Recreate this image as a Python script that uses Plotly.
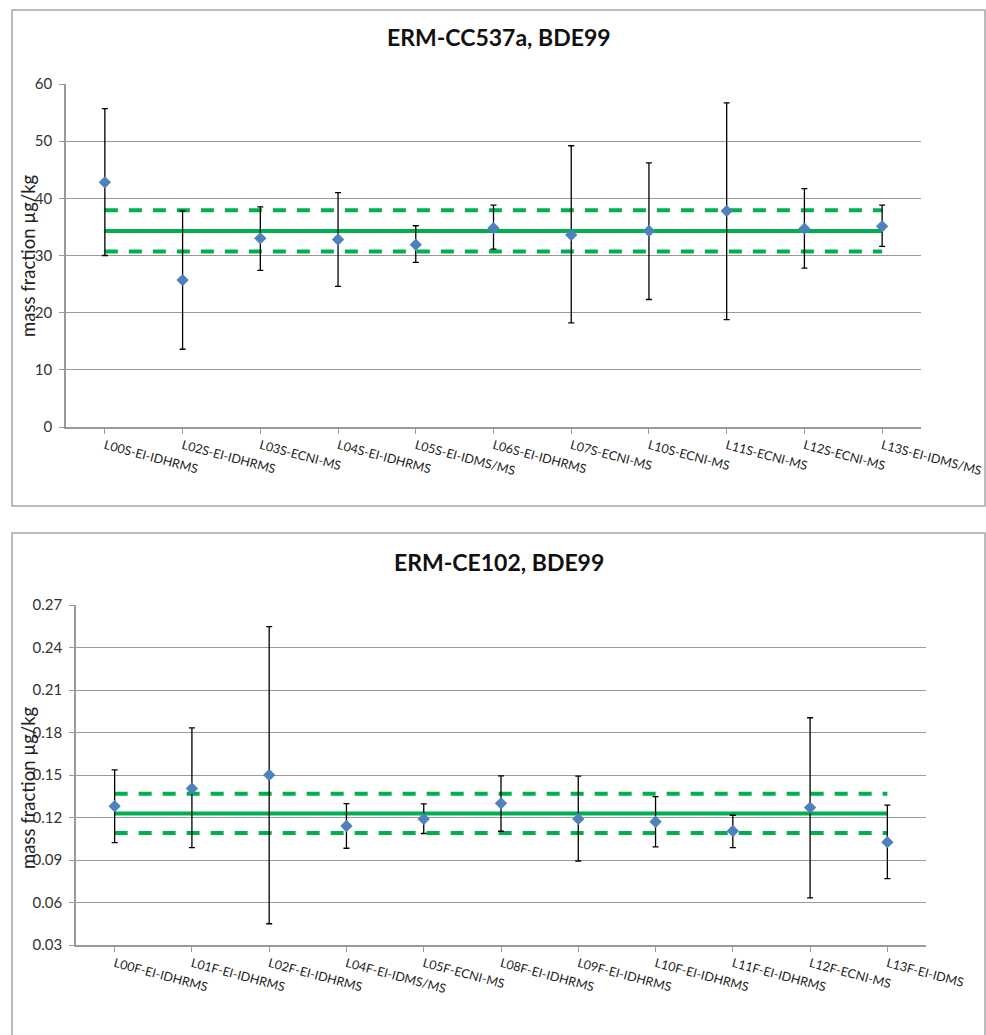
import plotly.graph_objects as go

W, H = 986, 1035

# ---- ERM-CC537a, BDE99 (top panel) ----
labs_cc = ["L00S-EI-IDHRMS", "L02S-EI-IDHRMS", "L03S-ECNI-MS", "L04S-EI-IDHRMS",
           "L05S-EI-IDMS/MS", "L06S-EI-IDHRMS", "L07S-ECNI-MS", "L10S-ECNI-MS",
           "L11S-ECNI-MS", "L12S-ECNI-MS", "L13S-EI-IDMS/MS"]
val_cc = [42.8, 25.7, 33.0, 32.8, 31.9, 34.8, 33.6, 34.3, 37.8, 34.7, 35.1]
up_cc = [55.7, 37.8, 38.5, 41.0, 35.2, 38.8, 49.2, 46.2, 56.7, 41.7, 38.8]
lo_cc = [30.0, 13.6, 27.4, 24.6, 28.8, 31.1, 18.2, 22.3, 18.8, 27.8, 31.6]
cert_cc = 34.3
cert_cc_hi = 37.9
cert_cc_lo = 30.7
yticks_cc = [0, 10, 20, 30, 40, 50, 60]

# ---- ERM-CE102, BDE99 (bottom panel) ----
labs_ce = ["L00F-EI-IDHRMS", "L01F-EI-IDHRMS", "L02F-EI-IDHRMS", "L04F-EI-IDMS/MS",
           "L05F-ECNI-MS", "L08F-EI-IDHRMS", "L09F-EI-IDHRMS", "L10F-EI-IDHRMS",
           "L11F-EI-IDHRMS", "L12F-ECNI-MS", "L13F-EI-IDMS"]
val_ce = [0.128, 0.1405, 0.150, 0.114, 0.119, 0.130, 0.119, 0.117, 0.1105, 0.127, 0.1026]
up_ce = [0.1536, 0.1833, 0.2547, 0.1298, 0.1296, 0.1494, 0.1492, 0.1348, 0.1216, 0.1904, 0.1287]
lo_ce = [0.1023, 0.0988, 0.045, 0.0983, 0.1087, 0.1103, 0.0893, 0.0992, 0.0988, 0.0632, 0.0769]
cert_ce = 0.1228
cert_ce_hi = 0.1367
cert_ce_lo = 0.1091
yticks_ce = [0.03, 0.06, 0.09, 0.12, 0.15, 0.18, 0.21, 0.24, 0.27]

BLUE = "#4F81BD"
GREEN = "#00B050"
GRID = "#9A9A9A"
FONT = "Lato, Open Sans, sans-serif"


def px_x(x):
    return x / W


def px_y(y):
    return 1 - y / H


fig = go.Figure()


def add_panel(idx, labels, vals, ups, los, cert, hi, lo):
    xa = "x" if idx == 1 else f"x{idx}"
    ya = "y" if idx == 1 else f"y{idx}"
    xs = list(range(len(labels)))
    ends = [xs[0], xs[-1]]
    for level, dash in ((hi, "13px,11px"), (lo, "13px,11px"), (cert, "solid")):
        fig.add_trace(go.Scatter(
            x=ends, y=[level, level], mode="lines",
            line=dict(color=GREEN, width=4, dash=dash),
            xaxis=xa, yaxis=ya, showlegend=False, hoverinfo="skip"))
    fig.add_trace(go.Scatter(
        x=xs, y=vals, mode="markers",
        marker=dict(symbol="diamond", size=9.5, color=BLUE),
        error_y=dict(type="data", symmetric=False,
                     array=[u - v for u, v in zip(ups, vals)],
                     arrayminus=[v - l for v, l in zip(vals, los)],
                     color="black", thickness=1.3, width=3),
        xaxis=xa, yaxis=ya, showlegend=False))


add_panel(1, labs_cc, val_cc, up_cc, lo_cc, cert_cc, cert_cc_hi, cert_cc_lo)
add_panel(2, labs_ce, val_ce, up_ce, lo_ce, cert_ce, cert_ce_hi, cert_ce_lo)

xcommon = dict(range=[-0.5, 10.5], showgrid=False, zeroline=False,
               showline=True, linecolor=GRID, linewidth=1.5,
               ticks="outside", ticklen=5, tickcolor=GRID, tickwidth=1,
               tickangle=15, tickfont=dict(family=FONT, size=12.5, color="#222"),
               tickvals=list(range(11)), automargin=False)
ycommon = dict(showgrid=True, gridcolor=GRID, gridwidth=1, zeroline=False,
               showline=True, linecolor=GRID, linewidth=1.5,
               ticks="outside", ticklen=5, tickcolor=GRID, tickwidth=1,
               tickfont=dict(family=FONT, size=15, color="#333"),
               ticklabelstandoff=4, automargin=False)

fig.update_layout(
    width=W, height=H, autosize=False,
    margin=dict(l=0, r=0, t=0, b=0, pad=0),
    paper_bgcolor="white", plot_bgcolor="white",
    xaxis=dict(xcommon, domain=[px_x(66), px_x(921)], anchor="y",
               ticktext=labs_cc),
    yaxis=dict(ycommon, domain=[px_y(427), px_y(84)], anchor="x",
               range=[0, 60], tickvals=yticks_cc,
               ticktext=[str(v) for v in yticks_cc]),
    xaxis2=dict(xcommon, domain=[px_x(76), px_x(926)], anchor="y2",
                ticktext=labs_ce),
    yaxis2=dict(ycommon, domain=[px_y(945), px_y(605)], anchor="x2",
                range=[0.03, 0.27], tickvals=yticks_ce,
                ticktext=[f"{v:.2f}" for v in yticks_ce]),
)

# chart frames
for (x0, y0, x1, y1) in ((12, 10, 985, 506), (12, 533, 985, 1040)):
    fig.add_shape(type="rect", xref="paper", yref="paper",
                  x0=px_x(x0), x1=px_x(x1), y0=px_y(y1), y1=px_y(y0),
                  line=dict(color="#A6A6A6", width=1.5), fillcolor="rgba(0,0,0,0)")

# titles
for text, y in (("ERM-CC537a, BDE99", 37), ("ERM-CE102, BDE99", 562)):
    fig.add_annotation(text=f"<b>{text}</b>", xref="paper", yref="paper",
                       x=px_x(499), y=px_y(y), showarrow=False,
                       xanchor="center", yanchor="middle",
                       font=dict(family=FONT, size=23, color="#111"))

# y-axis titles
for y in (256, 788):
    fig.add_annotation(text="mass fraction µg/kg", xref="paper", yref="paper",
                       x=px_x(28), y=px_y(y), showarrow=False, textangle=-90,
                       xanchor="center", yanchor="middle",
                       font=dict(family=FONT, size=18.5, color="#222"))

fig.write_html("out.html")
